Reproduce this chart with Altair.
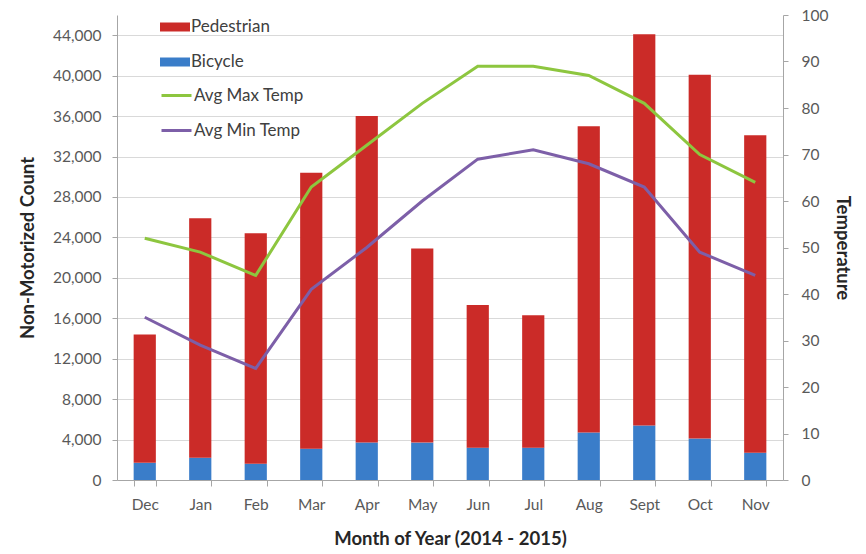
import altair as alt
import pandas as pd

# Monthly counts (Dec 2014 - Nov 2015)
months = ["Dec", "Jan", "Feb", "Mar", "Apr", "May", "Jun", "Jul", "Aug", "Sept", "Oct", "Nov"]
bicycle = [1700, 2200, 1600, 3100, 3700, 3700, 3200, 3200, 4700, 5400, 4100, 2700]
pedestrian = [12700, 23700, 22800, 27300, 32300, 19200, 14100, 13100, 30300, 38700, 36000, 31400]

# Average monthly temperatures
max_temp = [52, 49, 44, 63, 72, 81, 89, 89, 87, 81, 70, 64]
min_temp = [35, 29, 24, 41, 50, 60, 69, 71, 68, 63, 49, 44]

count_types = ["Pedestrian", "Bicycle"]
count_colors = ["#CB2B28", "#3A7DC9"]
temp_series = ["Avg Max Temp", "Avg Min Temp"]
temp_colors = ["#8DC63F", "#7D5FA8"]

counts = pd.DataFrame(
    [{"month": m, "type": "Bicycle", "count": b, "stack": 0} for m, b in zip(months, bicycle)]
    + [{"month": m, "type": "Pedestrian", "count": p, "stack": 1} for m, p in zip(months, pedestrian)]
)
temps = pd.DataFrame(
    [{"month": m, "series": "Avg Max Temp", "temp": t} for m, t in zip(months, max_temp)]
    + [{"month": m, "series": "Avg Min Temp", "temp": t} for m, t in zip(months, min_temp)]
)

FONT = "Lato"

x_enc = alt.X(
    "month:N",
    sort=months,
    scale=alt.Scale(paddingInner=0.6, paddingOuter=0.3),
    axis=alt.Axis(
        title="Month of Year (2014 - 2015)",
        labelAngle=0,
        tickBand="extent",
        tickSize=6,
        labelPadding=11,
        titlePadding=17,
        grid=False,
    ),
)

bars = alt.Chart(counts).mark_bar().encode(
    x=x_enc,
    y=alt.Y(
        "count:Q",
        stack="zero",
        scale=alt.Scale(domain=[0, 46000], nice=False),
        axis=alt.Axis(
            title="Non-Motorized Count",
            values=list(range(0, 44001, 4000)),
            format=",d",
            grid=True,
            tickSize=5,
            labelPadding=11,
            titlePadding=15,
        ),
    ),
    fill=alt.Fill(
        "type:N",
        scale=alt.Scale(domain=count_types, range=count_colors),
        legend=alt.Legend(
            title=None,
            orient="none",
            legendX=43,
            legendY=-3,
            symbolType="M-1,-0.3H1V0.3H-1Z",
            symbolSize=900,
            symbolStrokeWidth=0,
            symbolOpacity=1,
            labelOffset=1,
            rowPadding=12,
            padding=0,
        ),
    ),
    order=alt.Order("stack:Q", sort="ascending"),
)

lines = alt.Chart(temps).mark_line(strokeWidth=3).encode(
    x=x_enc,
    y=alt.Y(
        "temp:Q",
        scale=alt.Scale(domain=[0, 100], nice=False),
        axis=alt.Axis(
            title="Temperature",
            orient="right",
            values=list(range(0, 101, 10)),
            grid=False,
            tickSize=5,
            labelPadding=13,
            titlePadding=5,
        ),
    ),
    stroke=alt.Stroke(
        "series:N",
        scale=alt.Scale(domain=temp_series, range=temp_colors),
        legend=alt.Legend(
            title=None,
            orient="none",
            legendX=43,
            legendY=64,
            symbolType="stroke",
            symbolSize=900,
            symbolStrokeWidth=3,
            labelOffset=1,
            rowPadding=10,
            padding=0,
        ),
    ),
)

chart = (
    alt.layer(bars, lines)
    .resolve_scale(y="independent")
    .properties(
        width=666,
        height=465,
        background="white",
        autosize=alt.AutoSizeParams(type="none"),
        padding={"left": 117, "top": 15, "right": 83, "bottom": 74},
    )
    .configure_view(stroke=None)
    .configure_axis(
        labelFont=FONT,
        labelFontSize=15.5,
        labelColor="#595959",
        titleFont=FONT,
        titleFontSize=18.5,
        titleFontWeight="bold",
        titleColor="#262626",
        domainColor="#A6A6A6",
        tickColor="#A6A6A6",
        gridColor="#D9D9D9",
    )
    .configure_legend(
        labelFont=FONT,
        labelFontSize=17,
        labelColor="#404040",
    )
)

chart.save("out.html", embed_options={"renderer": "svg", "actions": False})
